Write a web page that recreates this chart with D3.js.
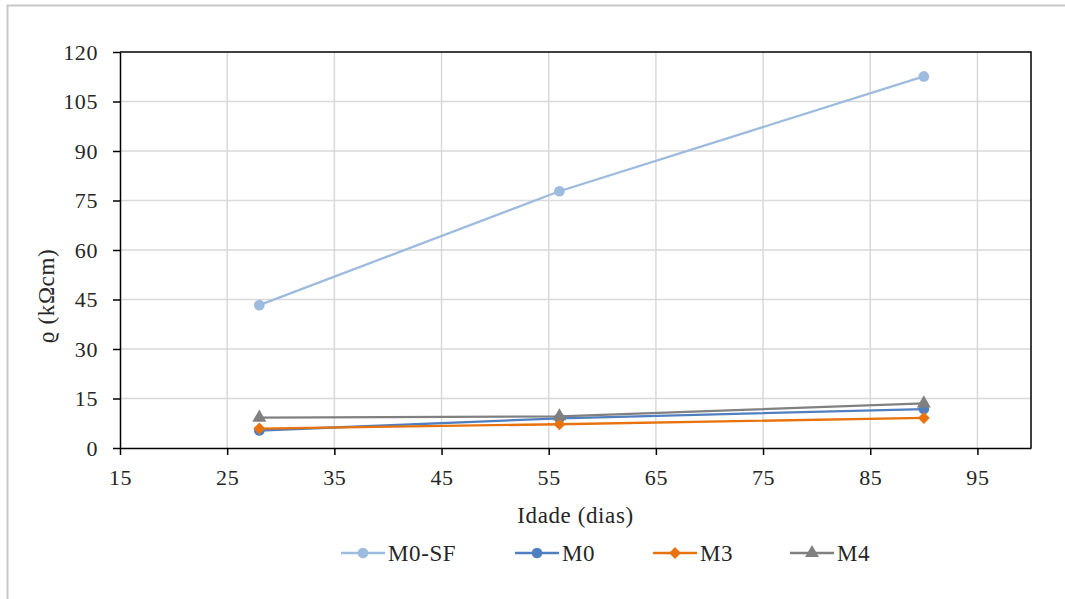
<!DOCTYPE html>
<html>
<head>
<meta charset="utf-8">
<script src="https://cdn.jsdelivr.net/npm/d3@7"></script>
<style>
  html, body { margin: 0; padding: 0; background: #fff; }
  svg { display: block; }
</style>
</head>
<body>
<svg id="chart" width="1065" height="599"></svg>
<script>
// Age in days
const ages = [28, 56, 90];
// Electrical resistivity (kΩcm) per mix
const seriesNames = ["M0-SF", "M0", "M3", "M4"];
const valuesM0SF = [43.3, 77.8, 112.6];
const valuesM0 = [5.3, 9.0, 11.8];
const valuesM3 = [5.9, 7.2, 9.1];
const valuesM4 = [9.2, 9.6, 13.5];
// Axis ticks
const xTicks = [15, 25, 35, 45, 55, 65, 75, 85, 95];
const yTicks = [0, 15, 30, 45, 60, 75, 90, 105, 120];

const FONT = "'Liberation Serif'";
const colors = ["#9dbadf", "#4f7fbf", "#e8730e", "#808080"];
const symbols = [d3.symbolCircle, d3.symbolCircle, d3.symbolSquare, d3.symbolTriangle];
const symSizes = [90, 90, 70, 85];
const symRotate = [0, 0, 45, 0];
const allValues = [valuesM0SF, valuesM0, valuesM3, valuesM4];

const svg = d3.select("#chart");

function styleText(sel, size) {
  return sel.style("font-family", FONT).style("font-size", size + "px")
    .style("letter-spacing", "0.6px").style("fill", "#262626");
}

// outer chart frame
svg.append("path")
  .attr("d", "M7.5,600 L7.5,5.5 L1066,5.5")
  .attr("fill", "none").attr("stroke", "#c8c8c8").attr("stroke-width", 2);

const plot = { left: 120, top: 52, right: 1031, bottom: 448 };

const x = d3.scaleLinear().domain([15, 100]).range([plot.left, plot.right]);
const y = d3.scaleLinear().domain([0, 120]).range([plot.bottom, plot.top]);

// gridlines
svg.append("g").selectAll("line").data(xTicks.slice(1)).join("line")
  .attr("x1", d => x(d)).attr("x2", d => x(d))
  .attr("y1", plot.top).attr("y2", plot.bottom)
  .attr("stroke", "#d9d9d9").attr("stroke-width", 1.5);
svg.append("g").selectAll("line").data(yTicks.slice(1, -1)).join("line")
  .attr("x1", plot.left).attr("x2", plot.right)
  .attr("y1", d => y(d)).attr("y2", d => y(d))
  .attr("stroke", "#d9d9d9").attr("stroke-width", 1.5);

// plot border (top and right)
svg.append("path")
  .attr("d", `M${plot.left},${plot.top} L${plot.right},${plot.top} L${plot.right},${plot.bottom}`)
  .attr("fill", "none").attr("stroke", "#000").attr("stroke-width", 1.5);

// axes
const xAxis = svg.append("g").attr("transform", `translate(0,${plot.bottom})`)
  .call(d3.axisBottom(x).tickValues(xTicks).tickSize(7).tickPadding(14).tickSizeOuter(0));
const yAxis = svg.append("g").attr("transform", `translate(${plot.left},0)`)
  .call(d3.axisLeft(y).tickValues(yTicks).tickSize(7).tickPadding(15).tickSizeOuter(0));
[xAxis, yAxis].forEach(g => {
  g.attr("font-family", null).attr("font-size", null);
  g.select(".domain").attr("stroke", "#000").attr("stroke-width", 1.5);
  g.selectAll(".tick line").attr("stroke", "#000").attr("stroke-width", 1.5);
  styleText(g.selectAll(".tick text"), 22);
});

// series lines and markers
const line = d3.line().x((d, i) => x(ages[i])).y(d => y(d));
allValues.forEach((vals, s) => {
  svg.append("path").datum(vals)
    .attr("d", line).attr("fill", "none")
    .attr("stroke", colors[s]).attr("stroke-width", 2.3);
});
allValues.forEach((vals, s) => {
  svg.append("g").selectAll("path").data(vals).join("path")
    .attr("d", d3.symbol(symbols[s], symSizes[s]))
    .attr("transform", (d, i) => `translate(${x(ages[i])},${y(d)}) rotate(${symRotate[s]})`)
    .attr("fill", colors[s]);
});

// axis titles
styleText(svg.append("text"), 23)
  .attr("x", (plot.left + plot.right) / 2).attr("y", 523)
  .attr("text-anchor", "middle")
  .text("Idade (dias)");
styleText(svg.append("text"), 23)
  .attr("transform", "translate(54,296) rotate(-90)")
  .attr("text-anchor", "middle")
  .text("ϱ (kΩcm)");

// legend
const legendX = [341, 515, 653, 790];
const legend = svg.append("g");
seriesNames.forEach((name, s) => {
  const g = legend.append("g").attr("transform", `translate(${legendX[s]},553)`);
  g.append("line").attr("x1", 0).attr("x2", 44).attr("y1", 0).attr("y2", 0)
    .attr("stroke", colors[s]).attr("stroke-width", 2.3);
  g.append("path").attr("d", d3.symbol(symbols[s], symSizes[s]))
    .attr("transform", `translate(22,0) rotate(${symRotate[s]})`).attr("fill", colors[s]);
  styleText(g.append("text"), 23).attr("x", 47).attr("y", 8).text(name);
});
</script>
</body>
</html>
